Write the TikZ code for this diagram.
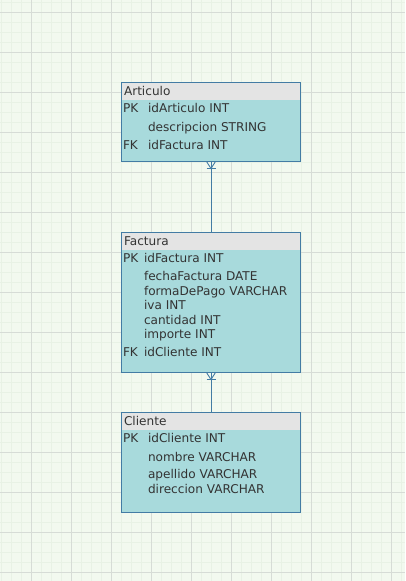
\documentclass[tikz,border=0pt]{standalone}
\usepackage{fontspec}
\setmainfont{DejaVu Sans}
\begin{document}
\begin{tikzpicture}[x=1pt,y=-1pt,
  every node/.style={inner sep=0pt,outer sep=0pt,text=txt,font=\fontsize{12.1}{14}\selectfont},
  lbl/.style={anchor=base west},
  ent/.style={draw=bord,line width=0.9pt,fill=body},
  hdr/.style={fill=head},
  conn/.style={draw=bord,line width=0.9pt}]
\definecolor{bg}{HTML}{F2F9EF}
\definecolor{minor}{HTML}{E8F2E5}
\definecolor{major}{HTML}{D6DCD6}
\definecolor{body}{HTML}{A8DADC}
\definecolor{head}{HTML}{E4E4E4}
\definecolor{bord}{HTML}{437CA4}
\definecolor{txt}{HTML}{333333}
\useasboundingbox (0,0) rectangle (405,581);
\fill[bg] (0,0) rectangle (405,581);
% minor grid
\foreach \x in {1,11,...,401} \draw[minor,line width=1pt] (\x,0) -- (\x,581);
\foreach \y in {2,12,...,572} \draw[minor,line width=1pt] (0,\y) -- (405,\y);
% major grid
\foreach \x in {31,71,...,391} \draw[major,line width=1pt] (\x,0) -- (\x,581);
\foreach \y in {12,52,...,572} \draw[major,line width=1pt] (0,\y) -- (405,\y);

% Articulo
\coordinate (a1) at (121.5,82.5); \coordinate (a2) at (300.5,161.5);
\fill[body] (a1) rectangle (a2);
\fill[hdr] (a1) rectangle (300.5,100);
\draw[ent,fill=none] (a1) rectangle (a2);
\node[lbl] (at) at (124,95) {Articulo};
\node[lbl] (apk) at (123,112.5) {PK};
\node[lbl] (a1t) at (148,112.5) {idArticulo INT};
\node[lbl] (a2t) at (148,131) {descripcion STRING};
\node[lbl] (afk) at (123,149) {FK};
\node[lbl] (a3t) at (148,149) {idFactura INT};

% Factura
\coordinate (f1) at (121.5,232.5); \coordinate (f2) at (300.5,372.5);
\fill[body] (f1) rectangle (f2);
\fill[hdr] (f1) rectangle (300.5,250);
\draw[ent,fill=none] (f1) rectangle (f2);
\node[lbl] (ft) at (124,245) {Factura};
\node[lbl] (fpk) at (123,262.5) {PK};
\node[lbl] (f1t) at (144,262.5) {idFactura INT};
\node[lbl] (f2t) at (144,280.5) {fechaFactura DATE};
\node[lbl] (f3t) at (144,295.5) {formaDePago VARCHAR};
\node[lbl] (f4t) at (144,309.5) {iva INT};
\node[lbl] (f5t) at (144,324.5) {cantidad INT};
\node[lbl] (f6t) at (144,338.5) {importe INT};
\node[lbl] (ffk) at (123,356.5) {FK};
\node[lbl] (f7t) at (144,356.5) {idCliente INT};

% Cliente
\coordinate (c1) at (121.5,412.5); \coordinate (c2) at (300.5,512.5);
\fill[body] (c1) rectangle (c2);
\fill[hdr] (c1) rectangle (300.5,430);
\draw[ent,fill=none] (c1) rectangle (c2);
\node[lbl] (ct) at (124,425) {Cliente};
\node[lbl] (cpk) at (123,442.5) {PK};
\node[lbl] (c1t) at (148,442.5) {idCliente INT};
\node[lbl] (c2t) at (148,461) {nombre VARCHAR};
\node[lbl] (c3t) at (148,478.5) {apellido VARCHAR};
\node[lbl] (c4t) at (148,493.5) {direccion VARCHAR};

% connectors
\coordinate (ab) at (211,161.5); \coordinate (ft0) at (211,232.5);
\coordinate (fb) at (211,372.5); \coordinate (ct0) at (211,412.5);
\draw[conn] (ab) -- (ft0);
\draw[conn] (fb) -- (ct0);
\draw[conn] (206.5,161.5) -- (211,168.5) -- (215.5,161.5);
\draw[conn] (206.5,168) -- (215.5,168);
\draw[conn] (206.5,372.5) -- (211,379.5) -- (215.5,372.5);
\draw[conn] (206.5,379) -- (215.5,379);
\end{tikzpicture}
\end{document}
